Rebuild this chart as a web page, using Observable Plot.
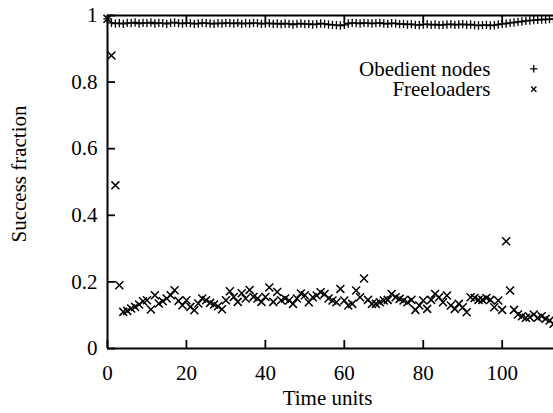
<!DOCTYPE html>
<html>
<head>
<meta charset="utf-8">
<script src="https://cdn.jsdelivr.net/npm/d3@7"></script>
<script src="https://cdn.jsdelivr.net/npm/@observablehq/plot@0.6"></script>
<style>
  html, body { margin: 0; padding: 0; background: white; }
</style>
</head>
<body>
<div id="chart"></div>
<script>
const obedient = [0.99,
  0.978,0.976,0.977,0.975,0.978,0.977,0.979,0.976,0.978,0.977,
  0.979,0.976,0.978,0.977,0.975,0.978,0.979,0.977,0.976,0.978,
  0.977,0.975,0.976,0.978,0.977,0.976,0.975,0.977,0.976,0.978,
  0.977,0.976,0.978,0.975,0.977,0.976,0.978,0.977,0.975,0.976,
  0.977,0.975,0.976,0.974,0.976,0.975,0.973,0.975,0.976,0.974,
  0.975,0.973,0.974,0.976,0.975,0.973,0.972,0.971,0.970,0.972,
  0.976,0.978,0.977,0.976,0.978,0.977,0.976,0.977,0.978,0.976,
  0.975,0.977,0.976,0.974,0.975,0.973,0.974,0.972,0.971,0.973,
  0.974,0.972,0.973,0.971,0.972,0.973,0.974,0.972,0.973,0.974,
  0.972,0.973,0.971,0.970,0.971,0.972,0.970,0.971,0.973,0.975,
  0.976,0.978,0.979,0.981,0.982,0.984,0.985,0.986,0.987,0.988,0.988,0.989,0.989];

const freeloaders = [0.99, 0.88, 0.49, 0.19,
  0.11, 0.113, 0.12, 0.125, 0.132, 0.142, 0.145,
  0.117, 0.16, 0.135, 0.142, 0.15, 0.16, 0.175, 0.143, 0.13, 0.145,
  0.125, 0.115, 0.135, 0.15, 0.145, 0.137, 0.132, 0.127, 0.118, 0.145,
  0.172, 0.155, 0.14, 0.166, 0.15, 0.176, 0.155, 0.15, 0.14, 0.155,
  0.183, 0.14, 0.17, 0.145, 0.15,
  0.144, 0.134, 0.15, 0.165, 0.16, 0.139, 0.154, 0.159, 0.169, 0.164,
  0.15, 0.144, 0.139, 0.179, 0.144, 0.129, 0.134, 0.174, 0.154, 0.21,
  0.146, 0.134, 0.134, 0.139, 0.144, 0.146, 0.164, 0.154, 0.149, 0.144,
  0.139, 0.146, 0.116, 0.129, 0.144, 0.119, 0.146, 0.164, 0.154, 0.139,
  0.159, 0.129, 0.119, 0.134, 0.124, 0.109, 0.154, 0.152, 0.146, 0.146,
  0.152, 0.146, 0.124, 0.144, 0.116, 0.322, 0.174, 0.116, 0.102, 0.097,
  0.092, 0.094, 0.102, 0.092, 0.097, 0.089, 0.084, 0.074];

const time = obedient.map((_, i) => i);
const xTicks = [0, 20, 40, 60, 80, 100];
const yTicks = [0, 0.2, 0.4, 0.6, 0.8, 1];
const yTickLabels = ["0", "0.2", "0.4", "0.6", "0.8", "1"];
const seriesNames = ["Obedient nodes", "Freeloaders"];
const symbols = ["plus", "times"];

const obData = time.map((t, i) => ({t, v: obedient[i]}));
const frData = time.map((t, i) => ({t, v: freeloaders[i]}));
const legend = seriesNames.map((name, i) => ({name, symbol: symbols[i], row: i}));

const W = 553, H = 413, ML = 107, MT = 15, MB = 65;
const xDomain = [0, 113], yDomain = [0, 1];
const tickLen = 8;
const frameH = H - MT - MB, frameW = W - ML;
// tick length converted to data units
const tyLen = tickLen / frameH * (yDomain[1] - yDomain[0]);
const txLen = tickLen / frameW * (xDomain[1] - xDomain[0]);

const chart = Plot.plot({
  width: W,
  height: H,
  marginLeft: ML,
  marginRight: 0,
  marginTop: MT,
  marginBottom: MB,
  style: {fontFamily: "'Liberation Serif', 'Times New Roman', serif", fontSize: "21px", background: "white", color: "black"},
  x: {domain: xDomain},
  y: {domain: yDomain},
  marks: [
    Plot.ruleY([yDomain[0], yDomain[1]], {stroke: "black", strokeWidth: 2}),
    Plot.ruleX([xDomain[0]], {stroke: "black", strokeWidth: 2}),
    // inward ticks
    Plot.ruleX(xTicks, {x: d => d, y1: yDomain[0], y2: yDomain[0] + tyLen, stroke: "black", strokeWidth: 1.8}),
    Plot.ruleX(xTicks, {x: d => d, y1: yDomain[1] - tyLen, y2: yDomain[1], stroke: "black", strokeWidth: 1.8}),
    Plot.ruleY(yTicks, {y: d => d, x1: xDomain[0], x2: xDomain[0] + txLen, stroke: "black", strokeWidth: 1.8}),
    Plot.axisX({anchor: "bottom", ticks: xTicks, tickSize: 0, tickPadding: 17, label: null, fontSize: 21}),
    Plot.axisY({anchor: "left", ticks: yTicks, tickFormat: d => yTickLabels[yTicks.indexOf(d)], tickSize: 0, tickPadding: 10, label: null, fontSize: 21}),
    Plot.dot(obData, {x: "t", y: "v", symbol: () => "plus", r: 2.8, stroke: "black", strokeWidth: 1.3}),
    Plot.dot(frData, {x: "t", y: "v", symbol: () => "times", r: 3.7, stroke: "black", strokeWidth: 1.5}),
    Plot.text(legend, {x: 97, y: d => 0.84 - d.row * 0.061, text: "name", textAnchor: "end", fontSize: 21}),
    Plot.dot(legend, {x: 108, y: d => 0.84 - d.row * 0.061, symbol: "symbol", r: 2.5, stroke: "black", strokeWidth: 1.3}),
    Plot.text(["Time units"], {frameAnchor: "bottom", textAnchor: "middle", lineAnchor: "middle", dx: -3, dy: 50, fontSize: 21}),
    Plot.text(["Success fraction"], {frameAnchor: "left", textAnchor: "middle", lineAnchor: "middle", rotate: -90, dx: -88, dy: -8, fontSize: 21})
  ]
});
document.getElementById("chart").appendChild(chart);
</script>
</body>
</html>
